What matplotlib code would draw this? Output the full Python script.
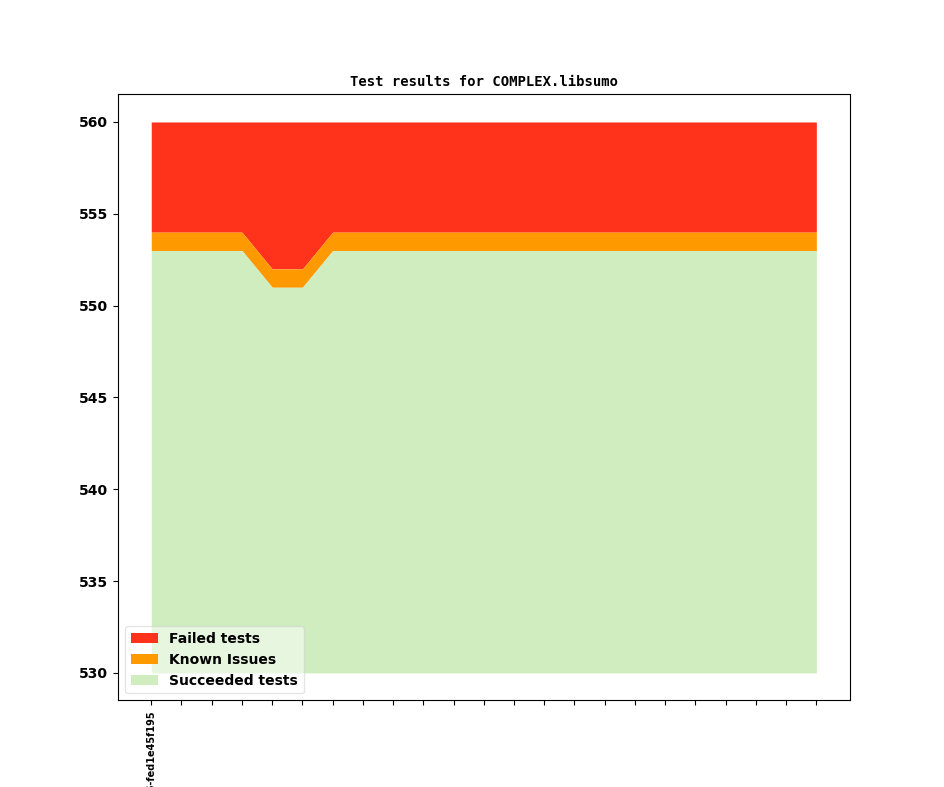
import matplotlib
matplotlib.use("Agg")
import matplotlib.pyplot as plt

N_RUNS = 23
runs = list(range(N_RUNS))
labels = ["v1_18_0+0456-fed1e45f195"] + [""] * (N_RUNS - 1)

succeeded = [553] * 4 + [551, 551] + [553] * 17
known = [1] * N_RUNS
failed = [6] * 4 + [8, 8] + [6] * 17
base = 530

plt.rcParams['font.weight'] = 'bold'

fig = plt.figure(figsize=(9.44, 7.87), dpi=100)
ax = fig.add_subplot(111)

lvl1 = [s for s in succeeded]
lvl2 = [s + k for s, k in zip(succeeded, known)]
lvl3 = [s + k + f for s, k, f in zip(succeeded, known, failed)]

ax.fill_between(runs, lvl2, lvl3, color='#ff331c', label='Failed tests', lw=0)
ax.fill_between(runs, lvl1, lvl2, color='#ff9900', label='Known Issues', lw=0)
ax.fill_between(runs, base, lvl1, color='#cfedbe', label='Succeeded tests', lw=0)

ax.set_xticks(runs)
ax.set_xticklabels(labels, rotation=90, fontsize=7, fontweight='bold')
for t in ax.get_yticklabels():
    t.set_fontweight('bold')
ax.tick_params(axis='y', labelsize=10)

ax.set_title("Test results for COMPLEX.libsumo", fontsize=10,
             family='DejaVu Sans Mono', fontweight='bold')
ax.legend(loc='lower left', prop={'weight': 'bold', 'size': 10}, framealpha=0.5)

fig.savefig("out.png", dpi=100)
